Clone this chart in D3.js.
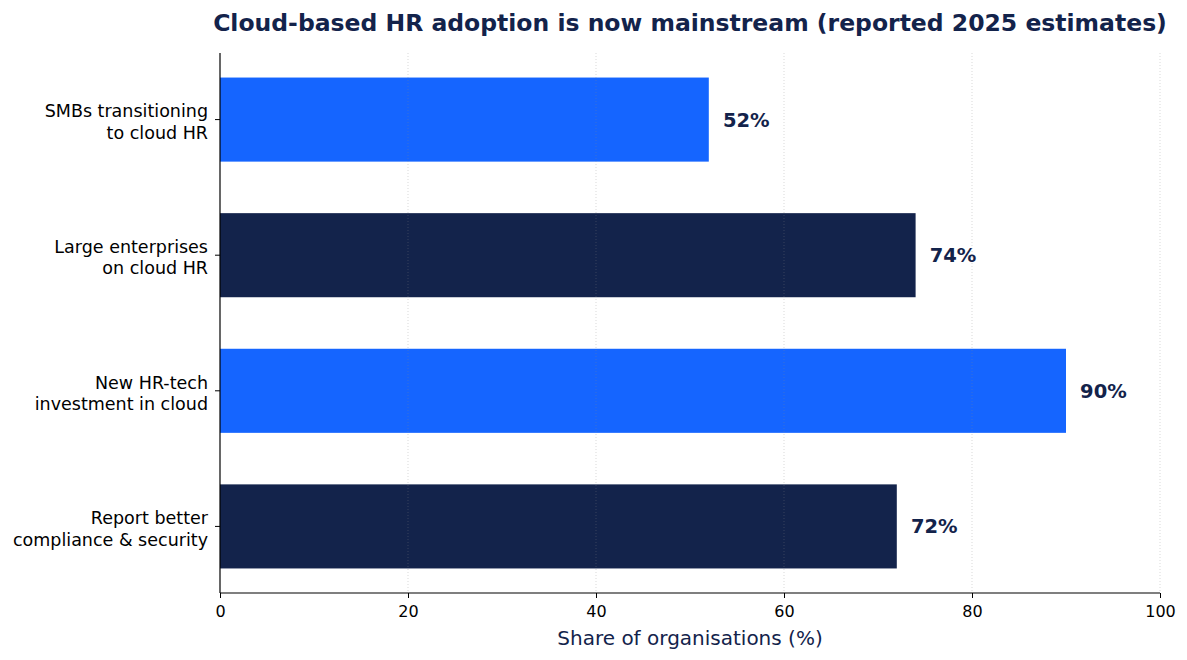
<!DOCTYPE html>
<html>
<head>
<meta charset="utf-8">
<script src="https://cdn.jsdelivr.net/npm/d3@7"></script>
<style>
  body { margin: 0; background: #fff; }
  svg { font-family: "DejaVu Sans", sans-serif; }
</style>
</head>
<body>
<div id="chart"></div>
<script>
// data
const categories = [
  ["SMBs transitioning", "to cloud HR"],
  ["Large enterprises", "on cloud HR"],
  ["New HR-tech", "investment in cloud"],
  ["Report better", "compliance & security"]
];
const values = [52, 74, 90, 72];
const barColors = ["#1565ff", "#13234b", "#1565ff", "#13234b"];
const xTicks = [0, 20, 40, 60, 80, 100];

const navy = "#13234b";
const W = 1187, H = 660;
const margin = {left: 220, right: 27, top: 53, bottom: 67};
const width = W - margin.left - margin.right,
      height = H - margin.top - margin.bottom;

const svg = d3.select("#chart").append("svg")
  .attr("width", W).attr("height", H);

const g = svg.append("g")
  .attr("transform", "translate(" + margin.left + "," + margin.top + ")");

const x = d3.scaleLinear().domain([0, 100]).range([0, width]);

// matplotlib-like y: bar i centered at i, height 0.62, 5% margins
const barH = 0.62;
const lo = -barH / 2, hi = values.length - 1 + barH / 2;
const pad = (hi - lo) * 0.05;
const y = d3.scaleLinear().domain([lo - pad, hi + pad]).range([0, height]);

// bars
g.selectAll("rect.bar")
  .data(values)
  .enter().append("rect")
  .attr("class", "bar")
  .attr("x", x(0))
  .attr("y", (d, i) => y(i - barH / 2))
  .attr("width", d => x(d) - x(0))
  .attr("height", y(barH) - y(0))
  .attr("fill", (d, i) => barColors[i]);

// grid (drawn above bars, faint)
g.selectAll("line.grid")
  .data(xTicks.slice(1))
  .enter().append("line")
  .attr("class", "grid")
  .attr("x1", d => x(d)).attr("x2", d => x(d))
  .attr("y1", 0).attr("y2", height)
  .attr("stroke", "#888").attr("stroke-opacity", 0.4)
  .attr("stroke-width", 0.8)
  .attr("stroke-dasharray", "1,2");

// value labels
g.selectAll("text.val")
  .data(values)
  .enter().append("text")
  .attr("class", "val")
  .attr("x", d => x(d + 1.5))
  .attr("y", (d, i) => y(i))
  .attr("dy", "0.36em")
  .attr("fill", navy)
  .attr("font-weight", "bold")
  .attr("font-size", "19.5px")
  .text(d => d + "%");

// x axis
const xAxis = g.append("g")
  .attr("transform", "translate(0," + height + ")")
  .call(d3.axisBottom(x).tickValues(xTicks).tickSize(5).tickPadding(8));
xAxis.selectAll("text").attr("font-size", "16px").attr("fill", "#000")
  .attr("font-family", "DejaVu Sans");
xAxis.selectAll("line").attr("stroke", "#000");
xAxis.select(".domain").attr("stroke", "#000").attr("stroke-width", 1.2)
  .attr("d", "M0,0H" + width);

// y axis
const yAx = g.append("g");
yAx.append("line")
  .attr("x1", 0).attr("x2", 0).attr("y1", 0).attr("y2", height)
  .attr("stroke", "#000").attr("stroke-width", 1.2);
const yt = yAx.selectAll("g.tick")
  .data(categories)
  .enter().append("g")
  .attr("class", "tick")
  .attr("transform", (d, i) => "translate(0," + y(i) + ")");
yt.append("line").attr("x1", -5).attr("x2", 0).attr("stroke", "#000");
yt.append("text")
  .attr("text-anchor", "end")
  .attr("font-size", "17.5px")
  .attr("fill", "#000")
  .selectAll("tspan")
  .data(d => d)
  .enter().append("tspan")
  .attr("x", -12)
  .attr("y", (d, i) => (i === 0 ? -8.5 : 12.8))
  .attr("dy", "0.36em")
  .text(d => d);

// x label
svg.append("text")
  .attr("x", margin.left + width / 2)
  .attr("y", 645)
  .attr("text-anchor", "middle")
  .attr("fill", navy)
  .attr("font-size", "20px")
  .text("Share of organisations (%)");

// title
svg.append("text")
  .attr("x", margin.left + width / 2)
  .attr("y", 31)
  .attr("text-anchor", "middle")
  .attr("fill", navy)
  .attr("font-weight", "bold")
  .attr("font-size", "23.5px")
  .text("Cloud-based HR adoption is now mainstream (reported 2025 estimates)");
</script>
</body>
</html>
